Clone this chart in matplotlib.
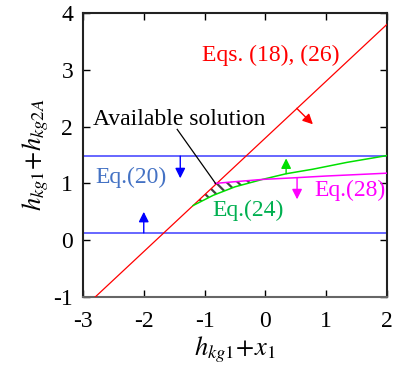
import numpy as np
import matplotlib
matplotlib.use("Agg")
import matplotlib.pyplot as plt

plt.rcParams['font.family'] = ['Liberation Serif', 'DejaVu Serif']
plt.rcParams['mathtext.fontset'] = 'stix'
plt.rcParams['hatch.linewidth'] = 1.6

# Data
red_x = [-2.8, 2.0]
red_y = [-1.0, 3.8]
blue_upper = 1.48
blue_lower = 0.13
green_x = [-1.19, -0.86, -0.5, -0.05, 0.34, 0.78, 1.34, 2.0]
green_y = [0.61, 0.79, 0.94, 1.07, 1.17, 1.25, 1.37, 1.49]
mag_x = [-0.83, -0.5, -0.05, 0.5, 1.0, 2.0]
mag_y = [1.0, 1.03, 1.07, 1.10, 1.13, 1.18]
xticks = [-3, -2, -1, 0, 1, 2]
yticks = [-1, 0, 1, 2, 3, 4]

fig = plt.figure(figsize=(3.93, 3.78), dpi=100)
ax = fig.add_axes([0.211, 0.214, 0.774, 0.752])

ax.plot(red_x, red_y, color='#ff0000', lw=0.9, zorder=3)
ax.axhline(blue_upper, color='#4d4dff', lw=1.2, zorder=2)
ax.axhline(blue_lower, color='#4d4dff', lw=1.2, zorder=2)
ax.plot(green_x, green_y, color='#00e000', lw=1.1, zorder=3)
ax.plot(mag_x, mag_y, color='#ff00ff', lw=1.1, zorder=3)

# hatched available region: above green, below red line and magenta curve
xs = np.linspace(green_x[0], -0.05, 60)
g = np.interp(xs, green_x, green_y)
r = np.interp(xs, red_x, red_y)
m = np.interp(xs, mag_x, mag_y, left=np.inf)
upper = np.minimum(r, m)
ax.fill_between(xs, g, upper, where=upper >= g, facecolor='none',
                edgecolor='#444444', hatch='\\\\\\', lw=0, zorder=2)

def arrow(x0, y0, x1, y1, c):
    ax.annotate('', xy=(x1, y1), xytext=(x0, y0),
                arrowprops=dict(arrowstyle='-|>,head_length=0.6,head_width=0.3',
                                mutation_scale=10, lw=1.0, color=c,
                                shrinkA=0, shrinkB=0), zorder=4)

arrow(0.515, 2.32, 0.78, 2.04, '#ff0000')
arrow(-1.40, blue_upper, -1.40, 1.09, '#0000ff')
arrow(-2.0, blue_lower, -2.0, 0.50, '#0000ff')
arrow(0.34, 1.17, 0.34, 1.44, '#00e000')
arrow(0.52, 1.10, 0.52, 0.72, '#ff00ff')

fs = 17
ax.text(0.08, 3.26, 'Eqs. (18), (26)', color='#ff0000', fontsize=fs, ha='center', va='center')
ax.text(-2.80, 1.10, 'Eq.(20)', color='#4472c4', fontsize=fs, ha='left', va='center')
ax.text(-0.88, 0.53, 'Eq.(24)', color='#00b050', fontsize=fs, ha='left', va='center')
ax.text(0.80, 0.88, 'Eq.(28)', color='#ff00ff', fontsize=fs, ha='left', va='center')
ax.text(-2.84, 2.12, 'Available solution', color='black', fontsize=fs, ha='left', va='center')
ax.plot([-1.45, -0.82], [1.95, 1.0], color='black', lw=0.9, zorder=4)

ax.set_xlim(-3, 2)
ax.set_ylim(-1, 4)
ax.set_xticks(xticks)
ax.set_yticks(yticks)
ax.set_xticklabels([str(t) for t in xticks])
ax.set_yticklabels([str(t) for t in yticks])
ax.tick_params(direction='in', top=True, right=True, length=5, width=1,
               labelsize=fs)
ax.tick_params(axis='x', pad=10)
ax.tick_params(axis='y', pad=7)
for s in ax.spines.values():
    s.set_linewidth(1.5)
    s.set_color('#222222')
ax.spines['bottom'].set_color('#666666')

ax.set_xlabel(r'$h_{kg1}\!+\!x_1$', fontsize=19, labelpad=2)
ax.set_ylabel(r'$h_{kg1}\!+\!h_{kg2A}$', fontsize=19, labelpad=2)

fig.savefig('out.png', dpi=100)
